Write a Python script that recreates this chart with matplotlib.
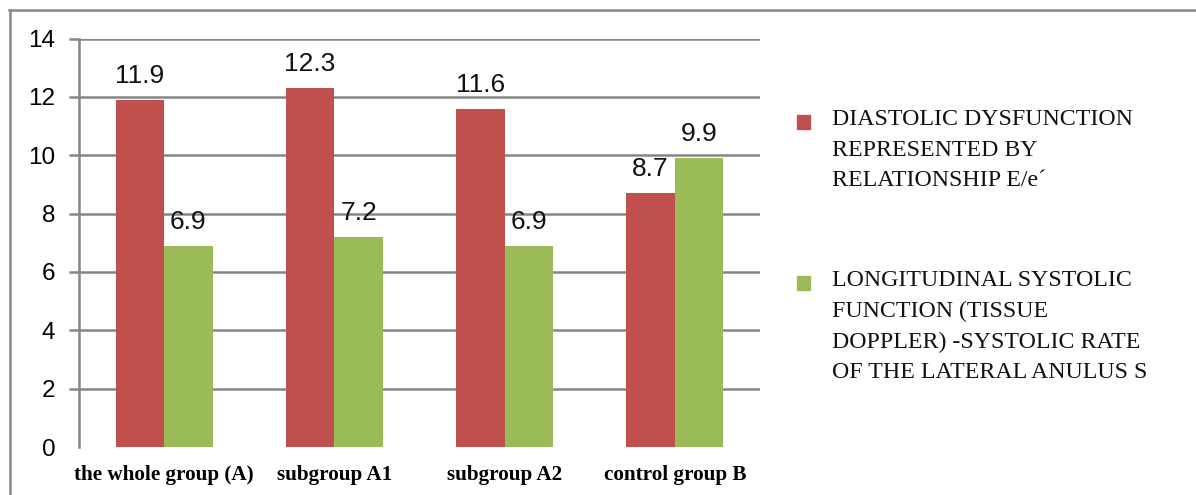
import numpy as np
import matplotlib.pyplot as plt
from matplotlib.lines import Line2D
from matplotlib.patches import Rectangle

# data
groups = ['the whole group (A)', 'subgroup A1', 'subgroup A2', 'control group B']
diastolic = [11.9, 12.3, 11.6, 8.7]
systolic = [6.9, 7.2, 6.9, 9.9]
series_names = ['DIASTOLIC DYSFUNCTION\nREPRESENTED BY\nRELATIONSHIP E/e\u00b4',
                'LONGITUDINAL SYSTOLIC\nFUNCTION (TISSUE\nDOPPLER) -SYSTOLIC RATE\nOF THE LATERAL ANULUS S']
colors = ['#C0504D', '#9BBB59']

fig = plt.figure(figsize=(11.96, 4.95), dpi=100)
ax = fig.add_axes([79 / 1196, 1 - 447 / 495, (760 - 79) / 1196, (447 - 38.5) / 495])

x = np.arange(len(groups))
w = 0.285
for i, (vals, c) in enumerate(zip([diastolic, systolic], colors)):
    pos = x + (i - 0.5) * w
    ax.bar(pos, vals, width=w, color=c, zorder=3)
    for p, v in zip(pos, vals):
        ax.text(p, v + 0.4, f'{v}', ha='center', va='bottom',
                fontsize=19, family='Liberation Sans', color='#111111')

ax.set_xlim(-0.5, len(groups) - 0.5)
ax.set_ylim(0, 14)
ax.set_yticks(np.arange(0, 15, 2))
ax.grid(axis='y', color='#868686', linewidth=1.8, zorder=0)
ax.get_ygridlines()[0].set_visible(False)
ax.tick_params(axis='y', length=7, width=1.8, color='#868686', pad=10,
               labelsize=17.5)
ax.yaxis.get_major_ticks()[0].tick1line.set_visible(False)
for lab in ax.get_yticklabels():
    lab.set_family('Liberation Sans')
ax.set_xticks(x)
ax.set_xticklabels(groups, fontsize=15.2, family='Liberation Serif', fontweight='bold')
ax.tick_params(axis='x', length=0, pad=13)
for s in ['top', 'right', 'bottom']:
    ax.spines[s].set_visible(False)
ax.spines['left'].set_color('#868686')
ax.spines['left'].set_linewidth(1.8)

# legend, drawn by hand to follow the wrapped layout
leg_y = [122, 283]
for name, c, ty in zip(series_names, colors, leg_y):
    fig.patches.append(Rectangle((797 / 1196, 1 - (ty + 7) / 495), 13 / 1196, 14 / 495,
                                 transform=fig.transFigure, color=c))
    fig.text(832 / 1196, 1 - (ty - 13) / 495, name, ha='left', va='top',
             fontsize=17.2, family='Liberation Serif', linespacing=1.6, color='#111111')

# outer frame (top and left edges only)
fig.add_artist(Line2D([9 / 1196, 1], [1 - 9.5 / 495] * 2, color='#878787', lw=1.8))
fig.add_artist(Line2D([9.5 / 1196] * 2, [0, 1 - 9.5 / 495], color='#878787', lw=1.8))

fig.savefig('out.png', dpi=100)
